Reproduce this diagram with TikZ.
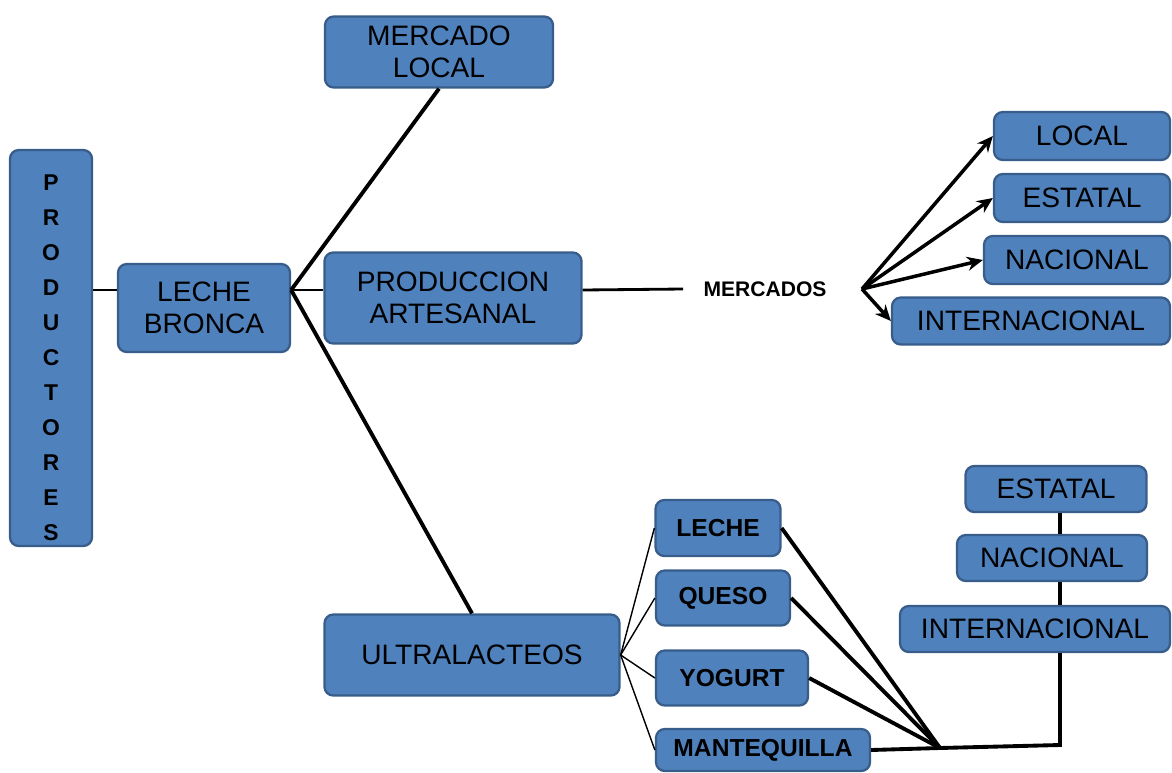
\documentclass[tikz,border=0pt]{standalone}
\usepackage{fontspec}
\setmainfont{Liberation Sans}
\usetikzlibrary{positioning, arrows.meta}
\definecolor{azulcaja}{HTML}{4F81BD}
\definecolor{bordecaja}{HTML}{385D8A}
\tikzset{
  caja/.style={draw=bordecaja, fill=azulcaja, line width=1.3pt, rounded corners=5pt,
    align=center, inner sep=1pt, font=\fontsize{16}{18}\selectfont},
  cajita/.style={caja, font=\bfseries\fontsize{14}{16}\selectfont},
  linea/.style={line width=2.2pt},
  lineafina/.style={line width=0.8pt},
  flecha/.style={line width=2pt, -{Stealth[length=9pt,width=8pt]}}
}
\begin{document}
\begin{tikzpicture}
    \useasboundingbox (0,0) rectangle (23.44,-15.44);
    % Cajas de la parte izquierda
    \node[caja, minimum width=1.64cm, minimum height=7.92cm] (prod) at (1.02,-6.96) {};
    \node[align=center, font=\bfseries\fontsize{13}{19.9}\selectfont] (prodtexto)
          at ([yshift=-0.2cm]prod.center) {P\\R\\O\\D\\U\\C\\T\\O\\R\\E\\S};
    \node[caja, minimum width=3.44cm, minimum height=1.76cm] (lb) at (4.08,-6.16) {LECHE\\BRONCA};
    \node[caja, minimum width=4.56cm, minimum height=1.42cm] (ml) at (8.78,-1.04) {MERCADO\\LOCAL};
    \node[caja, minimum width=5.14cm, minimum height=1.82cm] (pa) at (9.06,-5.96) {PRODUCCION\\ARTESANAL};
    \node[caja, minimum width=5.9cm, minimum height=1.62cm] (ul) at (9.44,-13.1) {ULTRALACTEOS};
    % Mercados de la produccion artesanal
    \node[font=\bfseries\fontsize{12}{14}\selectfont, inner xsep=0.4cm] (merc) at (15.3,-5.78) {MERCADOS};
    \node[caja, minimum width=3.52cm, minimum height=0.96cm] (loc) at (21.64,-2.72) {LOCAL};
    \node[caja, minimum width=3.52cm, minimum height=0.96cm] (est) at (21.64,-3.96) {ESTATAL};
    \node[caja, minimum width=3.72cm, minimum height=0.96cm] (nac) at (21.54,-5.2) {NACIONAL};
    \node[caja, minimum width=5.56cm, minimum height=0.94cm] (int) at (20.62,-6.42) {INTERNACIONAL};
    % Productos ultralacteos
    \node[cajita, minimum width=2.5cm, minimum height=1.12cm] (le) at (14.36,-10.56) {LECHE};
    \node[cajita, minimum width=2.68cm, minimum height=1.1cm] (qu) at (14.46,-11.96) {QUESO};
    \node[cajita, minimum width=3.04cm, minimum height=1.1cm] (yo) at (14.64,-13.56) {YOGURT};
    \node[cajita, minimum width=4.28cm, minimum height=0.84cm] (ma) at (15.26,-15.0) {MANTEQUILLA};
    % Mercados de los ultralacteos
    \node[caja, minimum width=3.62cm, minimum height=0.92cm] (es2) at (21.12,-9.78) {ESTATAL};
    \node[caja, minimum width=3.8cm, minimum height=0.92cm] (na2) at (21.04,-11.16) {NACIONAL};
    \node[caja, minimum width=5.4cm, minimum height=0.92cm] (in2) at (20.7,-12.58) {INTERNACIONAL};
    % Conexiones
    \coordinate (nudo) at (lb.east |- 0,-5.8);
    \coordinate (salida) at (17.24,-5.78);
    \coordinate (union) at (18.8,-14.96);
    \coordinate (esquina) at (21.2,-14.9);
    \draw[line width=1.6pt] (prod.east |- nudo) -- (lb.west |- nudo);
    \draw[linea] (nudo) -- (ml.south);
    \draw[line width=1.6pt] (nudo) -- (pa.west |- nudo);
    \draw[linea] (nudo) -- (ul.north);
    \draw[line width=1.6pt] (pa.east |- nudo) -- (merc.west);
    \foreach \m in {loc,est,nac,int} {
        \draw[flecha] (salida) -- (\m.west);
    }
    \foreach \p in {le,qu,yo,ma} {
        \draw[lineafina] (ul.east) -- (\p.west);
    }
    \foreach \p in {le,qu,yo} {
        \draw[linea] (\p.east) -- (union);
    }
    \draw[linea] (ma.east) -- (union) -- (esquina) -- (esquina |- in2.south);
    \draw[linea] (es2.south -| esquina) -- (na2.north -| esquina);
    \draw[linea] (na2.south -| esquina) -- (in2.north -| esquina);
\end{tikzpicture}
\end{document}
